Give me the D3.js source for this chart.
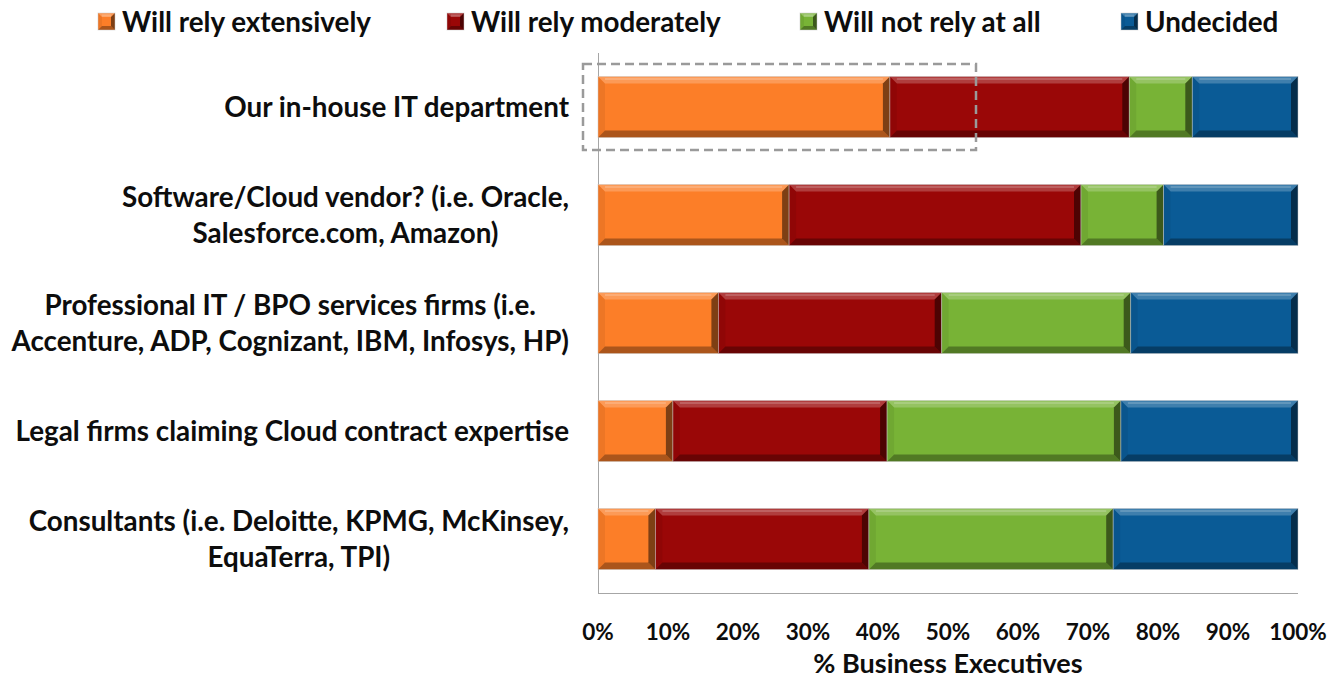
<!DOCTYPE html>
<html>
<head>
<meta charset="utf-8">
<script src="https://cdn.jsdelivr.net/npm/d3@7"></script>
<style>
  html, body { margin: 0; padding: 0; background: #fff; }
  svg { display: block; }
  text { font-family: Lato, "Open Sans", sans-serif; font-weight: 700; fill: #0d0d0d; }
</style>
</head>
<body>
<svg id="chart" width="1336" height="681"></svg>
<script>
// ---------------- data ----------------
const categories = [
  ["Our in-house IT department"],
  ["Software/Cloud vendor? (i.e. Oracle,", "Salesforce.com, Amazon)"],
  ["Professional IT / BPO services firms (i.e.", "Accenture, ADP, Cognizant, IBM, Infosys, HP)"],
  ["Legal firms claiming Cloud contract expertise"],
  ["Consultants (i.e. Deloitte, KPMG, McKinsey,", "EquaTerra, TPI)"]
];
const seriesNames = ["Will rely extensively", "Will rely moderately", "Will not rely at all", "Undecided"];
const relyExtensively = [41.7, 27.3, 17.2, 10.7, 8.2];
const relyModerately  = [34.2, 41.7, 31.9, 30.6, 30.5];
const notRelyAtAll    = [ 9.0, 11.8, 27.0, 33.4, 34.9];
const undecided       = [15.1, 19.2, 23.9, 25.3, 26.4];
const tickValues = [0, 10, 20, 30, 40, 50, 60, 70, 80, 90, 100];
const xTitle = "% Business Executives";
const colors = ["#FC7E28", "#9A0707", "#78B336", "#0A5B96"];

// ---------------- layout ----------------
const svg = d3.select("#chart");
const plot = { left: 598, right: 1298, top: 53, bottom: 593 };
const labelSize = 27.8;
const legendSize = 27.8;
const tickSize = 22.5;
const titleSize = 27;

const x = d3.scaleLinear().domain([0, 100]).range([plot.left, plot.right]);
const y = d3.scaleBand().domain(d3.range(categories.length))
  .range([plot.top, plot.bottom]).paddingInner(0.435).paddingOuter(0.2175);

const seriesArrays = [relyExtensively, relyModerately, notRelyAtAll, undecided];
const rows = categories.map((c, i) => {
  const o = { idx: i };
  seriesNames.forEach((s, k) => o[s] = seriesArrays[k][i]);
  return o;
});
const stacked = d3.stack().keys(seriesNames)(rows);

// axes lines
svg.append("line").attr("x1", x(0) + 0.5).attr("x2", x(0) + 0.5)
  .attr("y1", plot.top).attr("y2", plot.bottom)
  .attr("stroke", "#a6a6a6").attr("stroke-width", 1);
svg.append("line").attr("x1", x(0)).attr("x2", x(100))
  .attr("y1", plot.bottom + 0.5).attr("y2", plot.bottom + 0.5)
  .attr("stroke", "#a6a6a6").attr("stroke-width", 1);

// bevelled bar drawing
function bevel(g, x0, y0, w, h, color, b) {
  b = Math.min(b, w / 2, h / 2);
  g.append("rect").attr("x", x0).attr("y", y0).attr("width", w).attr("height", h)
    .attr("fill", color);
  const pts = (a) => a.map(p => p.join(",")).join(" ");
  g.append("polygon").attr("points", pts([[x0, y0], [x0 + w, y0], [x0 + w - b, y0 + b], [x0 + b, y0 + b]]))
    .attr("fill", "#fff").attr("fill-opacity", 0.22);
  g.append("polygon").attr("points", pts([[x0, y0], [x0 + b, y0 + b], [x0 + b, y0 + h - b], [x0, y0 + h]]))
    .attr("fill", "#000").attr("fill-opacity", 0.06);
  g.append("polygon").attr("points", pts([[x0, y0 + h], [x0 + b, y0 + h - b], [x0 + w - b, y0 + h - b], [x0 + w, y0 + h]]))
    .attr("fill", "#000").attr("fill-opacity", 0.32);
  g.append("polygon").attr("points", pts([[x0 + w, y0], [x0 + w, y0 + h], [x0 + w - b, y0 + h - b], [x0 + w - b, y0 + b]]))
    .attr("fill", "#000").attr("fill-opacity", 0.5);
  g.append("line").attr("x1", x0 + b).attr("x2", x0 + w - b)
    .attr("y1", y0 + 2.5).attr("y2", y0 + 2.5)
    .attr("stroke", "#fff").attr("stroke-opacity", 0.18).attr("stroke-width", 2);
  g.append("rect").attr("x", x0).attr("y", y0).attr("width", w).attr("height", h)
    .attr("fill", "none").attr("stroke", "#c8c8c8").attr("stroke-opacity", 0.6).attr("stroke-width", 0.8);
}

const barsG = svg.append("g");
stacked.forEach((layer, k) => {
  layer.forEach((d, i) => {
    const x0 = x(d[0]), x1 = x(d[1]);
    bevel(barsG.append("g"), x0, y(i), x1 - x0, y.bandwidth(), colors[k], 7);
  });
});

// dashed highlight box
svg.append("rect")
  .attr("x", 583).attr("y", 64)
  .attr("width", x(54) - 583).attr("height", 86)
  .attr("fill", "none").attr("stroke", "#9a9a9a").attr("stroke-width", 2.5)
  .attr("stroke-dasharray", "9,5");

// category labels
const labelRight = 569;
const lineH = 36;
categories.forEach((lines, i) => {
  const t = svg.append("text").attr("font-size", labelSize).attr("text-anchor", "middle");
  const cy = y(i) + y.bandwidth() / 2;
  const tsp = lines.map((ln, j) => t.append("tspan").text(ln)
    .attr("y", cy + (j - (lines.length - 1) / 2) * lineH).attr("dy", "0.35em"));
  const maxW = d3.max(tsp, s => s.node().getComputedTextLength());
  tsp.forEach(s => s.attr("x", labelRight - maxW / 2));
});

// x tick labels
svg.append("g").selectAll("text").data(tickValues).join("text")
  .attr("x", d => x(d)).attr("y", 632).attr("dy", "0.35em")
  .attr("text-anchor", "middle").attr("font-size", tickSize)
  .text(d => d + "%");

// x title
svg.append("text").attr("x", (x(0) + x(100)) / 2).attr("y", 664).attr("dy", "0.35em")
  .attr("text-anchor", "middle").attr("font-size", titleSize).text(xTitle);

// legend
const legendX = [98, 447, 800, 1121];
const lg = svg.append("g");
seriesNames.forEach((s, k) => {
  const g = lg.append("g").attr("transform", `translate(${legendX[k]},13)`);
  bevel(g, 0, 0, 17, 17, colors[k], 4);
  g.append("text").attr("x", 24).attr("y", 9).attr("dy", "0.35em")
    .attr("font-size", legendSize).text(s);
});
</script>
</body>
</html>
